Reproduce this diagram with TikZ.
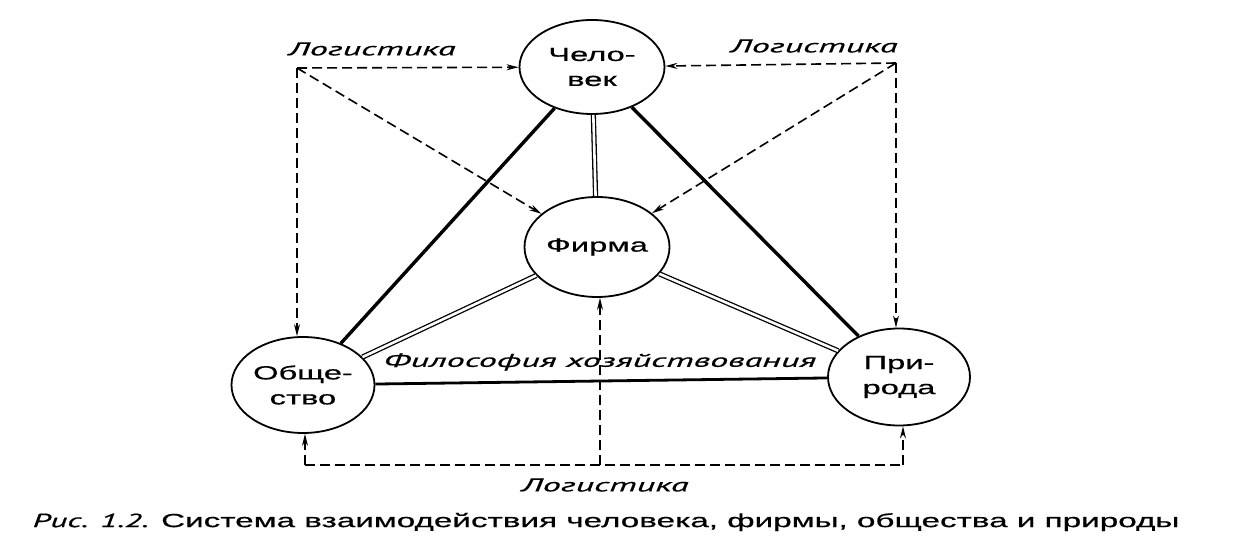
\documentclass[tikz,border=0pt]{standalone}
\usepackage{fontspec}
\setmainfont{Liberation Sans}
\newfontfamily\nodefont[FakeStretch=1.72,FakeBold=0.6]{Liberation Sans}
\newfontfamily\itfont[FakeStretch=1.95,FakeBold=0.6]{PT Sans Italic}
\newfontfamily\capfont[FakeStretch=1.75,FakeBold=0.6]{Liberation Sans}
\newfontfamily\capitfont[FakeStretch=1.75,FakeBold=0.6]{PT Sans Italic}
\usetikzlibrary{shapes.geometric,arrows.meta,calc}
\begin{document}
\begin{tikzpicture}[x=1pt,y=-1pt,
  blob/.style={ellipse,draw,line width=1.8pt,inner sep=0pt,align=center,
    font=\nodefont\fontsize{19}{25}\selectfont},
  thickline/.style={line width=3.4pt},
  dbl/.style={double,double distance=2.6pt,line width=1.3pt},
  dl/.style={dash pattern=on 10pt off 5pt,line width=1.6pt},
  dla/.style={dl,-{Stealth[length=12pt,width=6pt]}},
  lab/.style={font=\itfont\fontsize{18.5}{22}\selectfont,inner sep=0pt}
]
\useasboundingbox (0,0) rectangle (1234,553);
\fill[white] (0,0) rectangle (1234,553);

\node[blob,minimum width=145pt,minimum height=94pt] (ch) at (592,67) {Чело-\\век};
\node[blob,minimum width=145pt,minimum height=100pt] (fi) at (597,247) {Фирма};
\node[blob,minimum width=143pt,minimum height=96pt] (ob) at (303,385) {Обще-\\ство};
\node[blob,minimum width=142pt,minimum height=97pt] (pr) at (899,377) {При-\\рода};

\coordinate (tl) at (297,68);
\coordinate (tr) at (896,63);
\coordinate (bl) at (305,465);
\coordinate (br) at (903,465);
\coordinate (bm) at (600,465);

% solid connections
\draw[thickline] (ch) -- (ob);
\draw[thickline] (ch) -- (pr);
\draw[line width=2.8pt] (ob) -- (pr);
\draw[dbl] (ch) -- (fi);
\draw[dbl] (fi) -- (ob);
\draw[dbl] (fi) -- (pr);

% logistics (dashed)
\draw[dla] (tl) -- (ch);
\draw[dla] (tl) -- (tl |- ob.north);
\draw[dla] (tl) -- (fi);
\draw[dla] (tr) -- (ch);
\draw[dla] (tr) -- (tr |- pr.north);
\draw[dla] (tr) -- (fi);
\draw[dl] (bl) -- (br);
\draw[dla] (bl) -- (bl |- ob.south);
\draw[dla] (br) -- (br |- pr.south);
\draw[dla] (bm) -- (bm |- fi.south);

% labels
\node[lab] (l1) at (372,49) {Логистика};
\node[lab] (l2) at (814,46) {Логистика};
\node[lab] (l3) at (605,485) {Логистика};
\node[lab] (ph) at (600,362) {Философия хозяйствования};

\node[inner sep=0pt,font=\capfont\fontsize{19}{22}\selectfont] (cap) at (606,522)
  {{\capitfont Рис. 1.2.} Система взаимодействия человека, фирмы, общества и природы};
\end{tikzpicture}
\end{document}
